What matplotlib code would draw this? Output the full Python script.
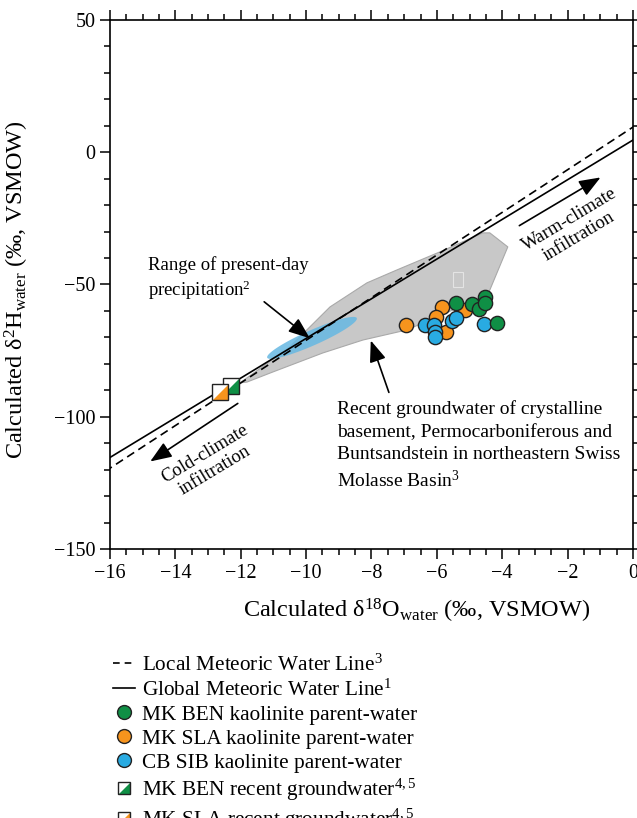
import numpy as np
import matplotlib
matplotlib.use("Agg")
import matplotlib.pyplot as plt
from matplotlib.lines import Line2D
from matplotlib.patches import Polygon

plt.rcParams["font.family"] = ["Liberation Serif", "DejaVu Serif"]
plt.rcParams["mathtext.fontset"] = "custom"
plt.rcParams["mathtext.rm"] = "Liberation Serif"
plt.rcParams["mathtext.it"] = "Liberation Serif:italic"
plt.rcParams["font.size"] = 14.5

# kaolinite parent-water (d18O, d2H)
ben_d18o = [-5.42, -4.93, -4.72, -4.53, -4.53, -4.17]
ben_d2h = [-57.0, -57.4, -59.3, -54.7, -57.0, -64.6]
sla_d18o = [-6.95, -5.85, -6.03, -5.72, -5.14]
sla_d2h = [-65.3, -58.5, -62.3, -68.0, -59.6]
sib_d18o = [-6.37, -6.09, -6.06, -6.06, -5.54, -5.42, -4.56]
sib_d2h = [-65.3, -65.3, -68.0, -69.8, -63.8, -62.7, -64.9]

# recent groundwater
gw_ben = (-12.30, -88.4)
gw_sla = (-12.65, -90.6)

# meteoric water lines: slope, intercept
lmwl = (8.06, 9.5)
gmwl = (7.5, 4.6)

# outline of recent groundwater field (crystalline basement etc.)
field_x = [-12.02, -10.50, -9.27, -8.14, -7.22, -5.91, -4.59, -4.38, -3.83, -4.38, -4.59,
           -6.92, -8.26, -9.49, -11.02, -11.81]
field_y = [-87.2, -73.6, -58.5, -49.4, -44.5, -37.7, -30.5, -30.5, -35.8, -52.1, -54.7,
           -67.2, -71.0, -75.9, -83.1, -86.9]

# present-day precipitation range (centre, major and minor half-axes)
prec_center = (-9.82, -70.2)
prec_major = (1.37, 7.5)
prec_minor = (0.10, -2.6)

fig = plt.figure(figsize=(6.37, 8.18), dpi=100)
ax = fig.add_axes([0.1727, 0.3289, 0.821, 0.6467])

ax.add_patch(Polygon(np.column_stack([field_x, field_y]), closed=True, joinstyle="round",
                     facecolor="#c8c8c8", edgecolor="#a9a9a9", lw=0.8, zorder=1))
# small white outline inside the field
ax.add_patch(plt.Rectangle((-5.51, -50.9), 0.3, 5.6, facecolor="none",
                           edgecolor="#e4e4e4", lw=0.8, zorder=1.5))

t = np.linspace(0, 2 * np.pi, 100)
ex = prec_center[0] + prec_major[0] * np.cos(t) + prec_minor[0] * np.sin(t)
ey = prec_center[1] + prec_major[1] * np.cos(t) + prec_minor[1] * np.sin(t)
ax.fill(ex, ey, color="#66b8e2", alpha=0.85, lw=0, zorder=2)

xl = np.array([-16.5, 0.5])
ax.plot(xl, lmwl[0] * xl + lmwl[1], color="black", ls=(0, (5, 3)), lw=1.2, zorder=3)
ax.plot(xl, gmwl[0] * xl + gmwl[1], color="black", ls="-", lw=1.2, zorder=3)

kw = dict(s=105, edgecolors="#222222", linewidths=1.0, zorder=5)
ax.scatter(sla_d18o, sla_d2h, c="#f7941d", **kw)
ax.scatter(sib_d18o, sib_d2h, c="#29abe2", **kw)
ax.scatter(ben_d18o, ben_d2h, c="#0f8f45", **kw)

tri = [(-1, -1), (1, -1), (1, 1), (-1, -1)]


def half_square(x, y, color, size=11):
    ax.plot(x, y, marker="s", ms=size, mfc="white", mec="none", ls="none", zorder=6)
    ax.plot(x, y, marker=tri, ms=size, mfc=color, mec="none", ls="none", zorder=6)
    ax.plot(x, y, marker="s", ms=size, mfc="none", mec="#222222", mew=1.0, ls="none", zorder=6)


half_square(*gw_ben, "#0f8f45")
half_square(*gw_sla, "#f7941d")

arrow = dict(arrowstyle="-|>,head_length=0.9,head_width=0.35", color="black", lw=1.2)
ax.annotate("", xy=(-9.82, -71.0), xytext=(-11.35, -55.9), arrowprops=arrow, zorder=4)
ax.annotate("", xy=(-8.05, -70.2), xytext=(-7.44, -91.8), arrowprops=arrow, zorder=4)
ax.annotate("", xy=(-0.92, -9.0), xytext=(-3.55, -28.3), arrowprops=arrow, zorder=4)
ax.annotate("", xy=(-14.84, -117.5), xytext=(-12.02, -94.4), arrowprops=arrow, zorder=4)

ax.text(-14.85, -39.2, "Range of present-day\nprecipitation$^2$", fontsize=13.5,
        ha="left", va="top", linespacing=1.25)
ax.text(-9.06, -93.8, "Recent groundwater of crystalline\nbasement, Permocarboniferous and\n"
        "Buntsandstein in northeastern Swiss\nMolasse Basin$^3$", fontsize=14,
        ha="left", va="top", linespacing=1.42)
ax.text(-1.8, -28.6, "Warm-climate\ninfiltration", fontsize=13.5, ha="center", va="center",
        rotation=31, linespacing=1.2)
ax.text(-12.95, -117.3, "Cold-climate\ninfiltration", fontsize=13.5, ha="center", va="center",
        rotation=31, linespacing=1.2)

ax.set_xlim(-16, 0)
ax.set_ylim(-150, 50)
ax.set_xticks(np.arange(-16, 1, 2))
ax.set_xticks(np.arange(-16, 0.1, 0.5), minor=True)
ax.set_yticks(np.arange(-150, 51, 50))
ax.set_yticks(np.arange(-150, 51, 10), minor=True)
ax.tick_params(which="both", direction="out", top=True, right=True, width=1.1)
ax.tick_params(which="major", length=7)
ax.tick_params(which="minor", length=4)
for s in ax.spines.values():
    s.set_linewidth(1.2)

ax.set_xlabel("Calculated δ$^{18}$O$_{\\mathrm{water}}$ (‰, VSMOW)", fontsize=17.5)
ax.set_ylabel("Calculated δ$^{2}$H$_{\\mathrm{water}}$ (‰, VSMOW)", fontsize=17.5)
ax.xaxis.set_label_coords(0.587, -0.09)
ax.yaxis.set_label_coords(-0.151, 0.49)


def sq_handle(color):
    h1 = Line2D([], [], marker="s", ms=9, mfc="white", mec="none", ls="none")
    h2 = Line2D([], [], marker=tri, ms=9, mfc=color, mec="none", ls="none")
    h3 = Line2D([], [], marker="s", ms=9, mfc="none", mec="#222222", mew=1.0, ls="none")
    return (h1, h2, h3)


def dot_handle(color):
    return Line2D([], [], marker="o", ms=10, mfc=color, mec="#222222", mew=1.0, ls="none")


handles = [
    Line2D([], [], color="black", ls=(0, (4, 3)), lw=1.2),
    Line2D([], [], color="black", lw=1.2),
    dot_handle("#0f8f45"),
    dot_handle("#f7941d"),
    dot_handle("#29abe2"),
    sq_handle("#0f8f45"),
    sq_handle("#f7941d"),
]
labels = [
    "Local Meteoric Water Line$^3$",
    "Global Meteoric Water Line$^1$",
    "MK BEN kaolinite parent-water",
    "MK SLA kaolinite parent-water",
    "CB SIB kaolinite parent-water",
    "MK BEN recent groundwater$^{4,5}$",
    "MK SLA recent groundwater$^{4,5}$",
]
fig.legend(handles, labels, loc="upper left", bbox_to_anchor=(0.177, 0.2),
           frameon=False, handlelength=1.05, handletextpad=0.35, labelspacing=0.19,
           borderaxespad=0, borderpad=0, fontsize=15.3)

fig.savefig("out.png", dpi=100)
